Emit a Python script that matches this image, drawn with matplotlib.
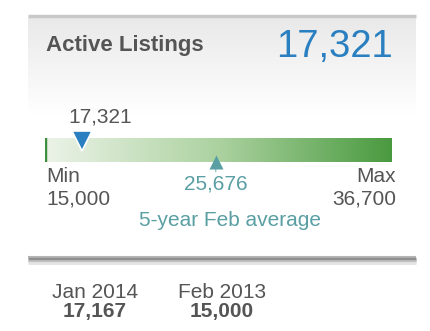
import numpy as np
import matplotlib
matplotlib.use('Agg')
import matplotlib.pyplot as plt
from matplotlib.colors import LinearSegmentedColormap

plt.rcParams['font.family'] = ['Liberation Sans', 'DejaVu Sans']

# data
title = 'Active Listings'
current = 17321
vmin = 15000
vmax = 36700
avg = 25676
avg_label = '5-year Feb average'
prev_labels = ['Jan 2014', 'Feb 2013']
prev_values = [17167, 15000]

grey = '#555555'
blue = '#2a7fc0'
teal = '#5a9fa3'

W, H = 430, 331
fig = plt.figure(figsize=(W / 100, H / 100), dpi=100)
fig.patch.set_facecolor('white')

# background axes in pixel units
bg = fig.add_axes([0, 0, 1, 1])
bg.set_xlim(0, W)
bg.set_ylim(H, 0)
bg.axis('off')

# panel: light grey gradient fading to white
grad = np.linspace(0, 1, 100).reshape(-1, 1)
panel_cmap = LinearSegmentedColormap.from_list('panel', ['#e9e9e9', '#ffffff'])
bg.imshow(grad, cmap=panel_cmap, extent=[28, 416, 115, 17], aspect='auto', zorder=0)
bg.plot([28, 416], [16, 16], color='#c9c9c9', lw=2.5, solid_capstyle='butt')
# bottom shadow line
for off, c, lw in [(-1, '#b5b5b5', 1.5), (0.5, '#8f8f8f', 2.5), (2.5, '#c0c0c0', 2), (4.5, '#e4e4e4', 2)]:
    bg.plot([28, 416], [258 + off, 258 + off], color=c, lw=lw, solid_capstyle='butt')

bg.text(46, 45, title, fontsize=16, fontweight='bold', color=grey, va='center', ha='left')
bg.text(393, 47, f'{current:,}', fontsize=27.5, color=blue, va='center', ha='right')

# gauge bar
bar = fig.add_axes([45 / W, 1 - 162 / H, 347 / W, 24 / H])
bar.set_xlim(vmin, vmax)
bar.set_ylim(0, 1)
bar.axis('off')
bar_cmap = LinearSegmentedColormap.from_list('bar', ['#ecf3e8', '#acd2a0', '#4a9a40'])
bar.imshow(np.linspace(0, 1, 256).reshape(1, -1), cmap=bar_cmap,
           extent=[vmin, vmax, 0, 1], aspect='auto')
bar.axvline(vmin, color='#3f8f3f', lw=2.5)

# current value marker
bar.plot([current], [0.88], marker='v', ms=14.5, color=blue, mec='white', mew=1.2, clip_on=False, zorder=5)
bar.annotate(f'{current:,}', xy=(current, 1), xycoords='data', xytext=(-10, 15), textcoords='offset points',
             fontsize=15, color=grey, ha='left', va='center', annotation_clip=False)

# average marker
bar.plot([avg], [0.0], marker='^', ms=10, color=teal, mec='none', clip_on=False, zorder=5)
bar.annotate('', xy=(avg, 0), xytext=(0, -7), textcoords='offset points', xycoords='data',
             arrowprops=dict(arrowstyle='-', color='#9cc4c4', lw=1, shrinkA=0, shrinkB=0,
                             connectionstyle='arc3'),
             annotation_clip=False)
bar.annotate(f'{avg:,}', xy=(avg, 0), xycoords='data', xytext=(0, -15.5), textcoords='offset points',
             fontsize=15, color=teal, ha='center', va='center', annotation_clip=False)

bg.text(46, 176, 'Min', fontsize=15, color=grey, ha='left', va='center')
bg.text(46, 199, f'{vmin:,}', fontsize=15, color=grey, ha='left', va='center')
bg.text(396, 176, 'Max', fontsize=15, color=grey, ha='right', va='center')
bg.text(396, 199, f'{vmax:,}', fontsize=15, color=grey, ha='right', va='center')
bg.text(230, 220, avg_label, fontsize=15, color=teal, ha='center', va='center')

# previous periods
for cx, lab, val in zip([95, 222], prev_labels, prev_values):
    bg.text(cx, 292, lab, fontsize=15, color=grey, ha='center', va='center')
    bg.text(cx, 312, f'{val:,}', fontsize=15, fontweight='bold', color=grey, ha='center', va='center')

fig.savefig('out.png', dpi=100)
